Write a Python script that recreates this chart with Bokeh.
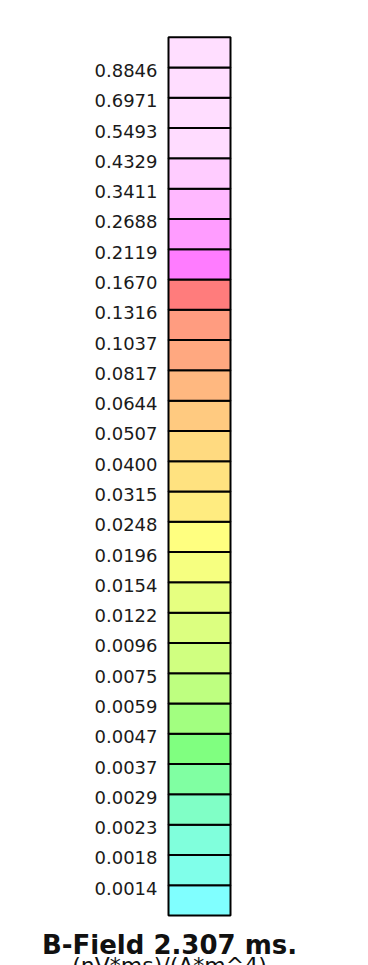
from bokeh.plotting import figure
from bokeh.models import Range1d, ColumnDataSource
from bokeh.core.properties import value
from bokeh.embed import file_html
from bokeh.resources import INLINE

# ---- data (bottom to top) ----
boundary_labels = ["0.0014", "0.0018", "0.0023", "0.0029", "0.0037", "0.0047", "0.0059",
                   "0.0075", "0.0096", "0.0122", "0.0154", "0.0196", "0.0248", "0.0315",
                   "0.0400", "0.0507", "0.0644", "0.0817", "0.1037", "0.1316", "0.1670",
                   "0.2119", "0.2688", "0.3411", "0.4329", "0.5493", "0.6971", "0.8846"]
cell_colors = ["#80FFFF", "#80FFEA", "#80FFDC", "#80FFC6", "#80FFA2", "#80FF80", "#A2FF80",
               "#BEFF80", "#D0FF80", "#DCFF80", "#E6FF80", "#F6FF80", "#FFFF80", "#FFEC80",
               "#FFE280", "#FFDA80", "#FFCA80", "#FFB880", "#FFA880", "#FF9C80", "#FF7C7C",
               "#FF7CFF", "#FF9CFF", "#FFB8FF", "#FFCCFF", "#FFDCFF", "#FFDDFF", "#FFDDFF",
               "#FFDEFF"]
title_text = "B-Field 2.307 ms."
unit_text = "(nV*ms)/(A*m^4)"

# ---- layout (canvas pixels) ----
W, H = 360, 990
bar_left, bar_right = 168, 230
bar_top_px, bar_bottom_px = 36.7, 915.0
n = len(cell_colors)
unit = (bar_bottom_px - bar_top_px) / n

p = figure(width=W, height=H, output_backend="svg", toolbar_location=None,
           x_range=Range1d(0, W),
           y_range=Range1d(-(H - bar_bottom_px) / unit, n + bar_top_px / unit),
           min_border=0, outline_line_color=None)
p.axis.visible = False
p.grid.visible = False
p.background_fill_color = "white"

cells = ColumnDataSource(dict(bottom=list(range(n)), top=[i + 1 for i in range(n)],
                              color=cell_colors))
p.quad(left=bar_left, right=bar_right, bottom="bottom", top="top", fill_color="color",
       line_color="black", line_width=2, source=cells)

labels = ColumnDataSource(dict(y=list(range(1, len(boundary_labels) + 1)),
                               text=boundary_labels))
p.text(x=157, y="y", text="text", source=labels, text_align="right",
       text_baseline="middle", y_offset=3, text_font=value("DejaVu Sans"),
       text_font_size="18px", text_color="#1a1a1a")

p.text(x=[169], y=[-(944 - bar_bottom_px) / unit], text=[title_text], text_align="center",
       text_baseline="alphabetic", text_font=value("DejaVu Sans"),
       text_font_style="bold", text_font_size="26px", text_color="#111111")
p.text(x=[169], y=[-(952 - bar_bottom_px) / unit], text=[unit_text], text_align="center",
       text_baseline="top", text_font=value("DejaVu Sans"),
       text_font_size="22px", text_color="#111111")

open("out.html", "w").write(file_html(p, INLINE))
